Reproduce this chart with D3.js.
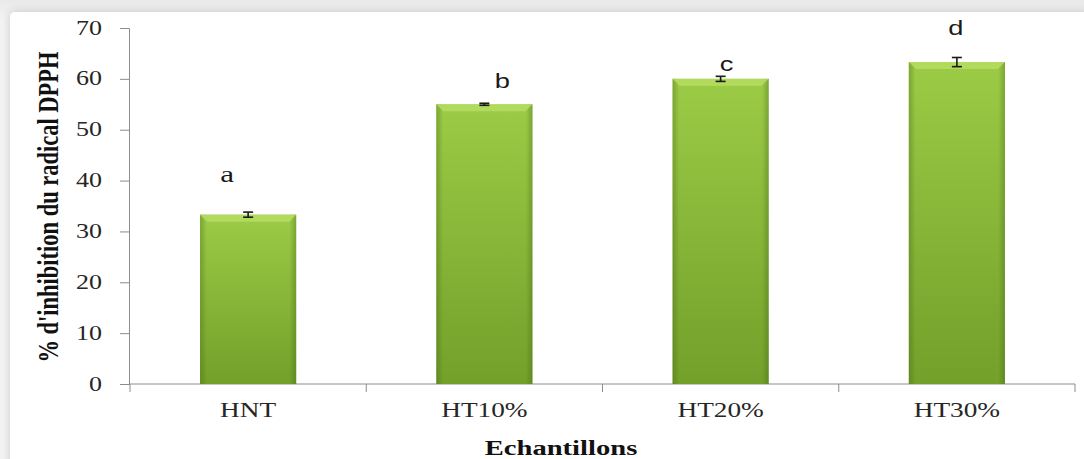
<!DOCTYPE html>
<html>
<head>
<meta charset="utf-8">
<script src="https://cdn.jsdelivr.net/npm/d3@7"></script>
<style>
  html, body { margin: 0; padding: 0; background: #ececec; }
  svg { display: block; }
</style>
</head>
<body>
<svg id="chart" width="1084" height="459"></svg>
<script>
// Samples, DPPH inhibition (%) and standard deviations
const categories = ["HNT", "HT10%", "HT20%", "HT30%"];
const values = [33.3, 55.0, 60.0, 63.3];
const errors = [0.5, 0.2, 0.5, 0.9];
const letters = ["a", "b", "c", "d"];
const yTicks = [0, 10, 20, 30, 40, 50, 60, 70];

const svg = d3.select("#chart");
const W = 1084, H = 459;
const margin = { left: 130, right: 9, top: 28, bottom: 75 };
const SX = 1.3;               // horizontal stretch applied to all text
const serif = "'Liberation Serif', 'Times New Roman', serif";
const sans = "'Liberation Sans', Arial, sans-serif";

const defs = svg.append("defs");
const shadow = defs.append("filter").attr("id", "panelShadow")
  .attr("x", "-5%").attr("y", "-5%").attr("width", "110%").attr("height", "110%");
shadow.append("feGaussianBlur").attr("in", "SourceAlpha").attr("stdDeviation", 5).attr("result", "blur");
shadow.append("feComponentTransfer").attr("in", "blur").attr("result", "soft")
  .append("feFuncA").attr("type", "linear").attr("slope", 0.18);
const merge = shadow.append("feMerge");
merge.append("feMergeNode").attr("in", "soft");
merge.append("feMergeNode").attr("in", "SourceGraphic");

// page backdrop and white panel
const bg = defs.append("linearGradient").attr("id", "bgGrad")
  .attr("x1", 0).attr("y1", 0).attr("x2", 0).attr("y2", 1);
bg.append("stop").attr("offset", "0%").attr("stop-color", "#e9e9e9");
bg.append("stop").attr("offset", "4%").attr("stop-color", "#f3f3f3");
bg.append("stop").attr("offset", "100%").attr("stop-color", "#f3f3f3");
svg.append("rect").attr("width", W).attr("height", H).attr("fill", "url(#bgGrad)");
svg.append("rect").attr("x", 10).attr("y", 12).attr("width", W).attr("height", H)
  .attr("rx", 5).attr("fill", "#ffffff").attr("filter", "url(#panelShadow)");

// bar fills
const vGrad = defs.append("linearGradient").attr("id", "barV")
  .attr("x1", 0).attr("y1", 0).attr("x2", 0).attr("y2", 1);
vGrad.append("stop").attr("offset", "0%").attr("stop-color", "#9ccb46");
vGrad.append("stop").attr("offset", "100%").attr("stop-color", "#72a02a");

const hGrad = defs.append("linearGradient").attr("id", "barH")
  .attr("x1", 0).attr("y1", 0).attr("x2", 1).attr("y2", 0);
hGrad.append("stop").attr("offset", "0%").attr("stop-color", "#3f5e12").attr("stop-opacity", 0.35);
hGrad.append("stop").attr("offset", "7%").attr("stop-color", "#3f5e12").attr("stop-opacity", 0.0);
hGrad.append("stop").attr("offset", "93%").attr("stop-color", "#3f5e12").attr("stop-opacity", 0.0);
hGrad.append("stop").attr("offset", "100%").attr("stop-color", "#3f5e12").attr("stop-opacity", 0.35);

const xAxisScale = d3.scaleBand().domain(categories)
  .range([margin.left, W - margin.right]);
const x = d3.scaleBand().domain(categories)
  .range([margin.left, W - margin.right]).paddingInner(0.593).paddingOuter(0.2965);
const y = d3.scaleLinear().domain([0, 70]).range([H - margin.bottom, margin.top]);

// helper: text stretched horizontally around its anchor point
function stretchedText(g, px, py, str, opts) {
  return g.append("text")
    .attr("transform", `translate(${px},${py}) scale(${SX},1)`)
    .attr("text-anchor", opts.anchor || "middle")
    .attr("font-family", opts.font || serif)
    .attr("font-size", opts.size || 20)
    .attr("font-weight", opts.weight || "normal")
    .attr("fill", opts.fill || "#222")
    .text(str);
}

// y axis (line + ticks from the library, labels placed with stretch)
const yAxis = svg.append("g").attr("transform", `translate(${margin.left - 1},0)`)
  .call(d3.axisLeft(y).tickValues(yTicks).tickSize(9).tickFormat(""));
yAxis.select(".domain").attr("stroke", "#8c8c8c");
yAxis.selectAll(".tick line").attr("stroke", "#8c8c8c");
const yLab = svg.append("g");
yTicks.forEach(t => stretchedText(yLab, 102, y(t) + 6.5, String(t),
  { anchor: "end", size: 20, fill: "#262626" }));

// x axis with tick marks at category boundaries
const xAxisG = svg.append("g").attr("transform", `translate(0,${y(0)})`);
xAxisG.append("line").attr("x1", margin.left - 1).attr("x2", W - margin.right)
  .attr("y1", 0).attr("y2", 0).attr("stroke", "#8c8c8c");
const bounds = categories.map(c => xAxisScale(c)).concat([xAxisScale.range()[1]]);
xAxisG.selectAll("line.tk").data(bounds).enter().append("line").attr("class", "tk")
  .attr("x1", d => d).attr("x2", d => d).attr("y1", 0).attr("y2", 8)
  .attr("stroke", "#8c8c8c");
categories.forEach(c => stretchedText(xAxisG, xAxisScale(c) + xAxisScale.bandwidth() / 2,
  33, c, { size: 21, fill: "#262626" }));

// bars
const bars = svg.append("g").selectAll("g").data(categories).enter().append("g");
bars.append("rect")
  .attr("x", d => x(d)).attr("width", x.bandwidth())
  .attr("y", (d, i) => y(values[i])).attr("height", (d, i) => y(0) - y(values[i]))
  .attr("fill", "url(#barV)");
bars.append("rect")
  .attr("x", d => x(d)).attr("width", x.bandwidth())
  .attr("y", (d, i) => y(values[i])).attr("height", (d, i) => y(0) - y(values[i]))
  .attr("fill", "url(#barH)");
// bevelled top edge
bars.append("path")
  .attr("d", (d, i) => {
    const x0 = x(d), x1 = x(d) + x.bandwidth(), t = y(values[i]), b = 7;
    return `M${x0},${t}L${x1},${t}L${x1 - b},${t + b}L${x0 + b},${t + b}Z`;
  })
  .attr("fill", "#b6dd62").attr("opacity", 0.85);

// error bars
const cx = d => x(d) + x.bandwidth() / 2;
const eb = svg.append("g").selectAll("g").data(categories).enter().append("g")
  .attr("stroke", "#1a1a1a").attr("stroke-width", 1.6);
eb.append("line").attr("x1", cx).attr("x2", cx)
  .attr("y1", (d, i) => y(values[i] + errors[i])).attr("y2", (d, i) => y(values[i] - errors[i]));
eb.append("line").attr("x1", d => cx(d) - 5).attr("x2", d => cx(d) + 5)
  .attr("y1", (d, i) => y(values[i] + errors[i])).attr("y2", (d, i) => y(values[i] + errors[i]));
eb.append("line").attr("x1", d => cx(d) - 5).attr("x2", d => cx(d) + 5)
  .attr("y1", (d, i) => y(values[i] - errors[i])).attr("y2", (d, i) => y(values[i] - errors[i]));

// significance letters above each bar
const letterStyle = [
  { dx: -21, dy: -33, font: serif, size: 24 },
  { dx: 18, dy: -16, font: sans, size: 21 },
  { dx: 6, dy: -8, font: sans, size: 21 },
  { dx: -1, dy: -27, font: sans, size: 21 }
];
const letG = svg.append("g");
categories.forEach((c, i) => stretchedText(letG, cx(c) + letterStyle[i].dx,
  y(values[i]) + letterStyle[i].dy, letters[i],
  { font: letterStyle[i].font, size: letterStyle[i].size, fill: "#1a1a1a" }));

// axis titles
svg.append("text")
  .attr("transform", `translate(58,${(y(0) + y(70)) / 2 + 1}) scale(${SX},1) rotate(-90)`)
  .attr("text-anchor", "middle")
  .attr("font-family", serif)
  .attr("font-weight", "bold").attr("font-size", 22.5).attr("fill", "#111")
  .text("% d'inhibition du radical DPPH");
stretchedText(svg, 561, 455, "Echantillons",
  { size: 22, weight: "bold", fill: "#111" });
</script>
</body>
</html>
